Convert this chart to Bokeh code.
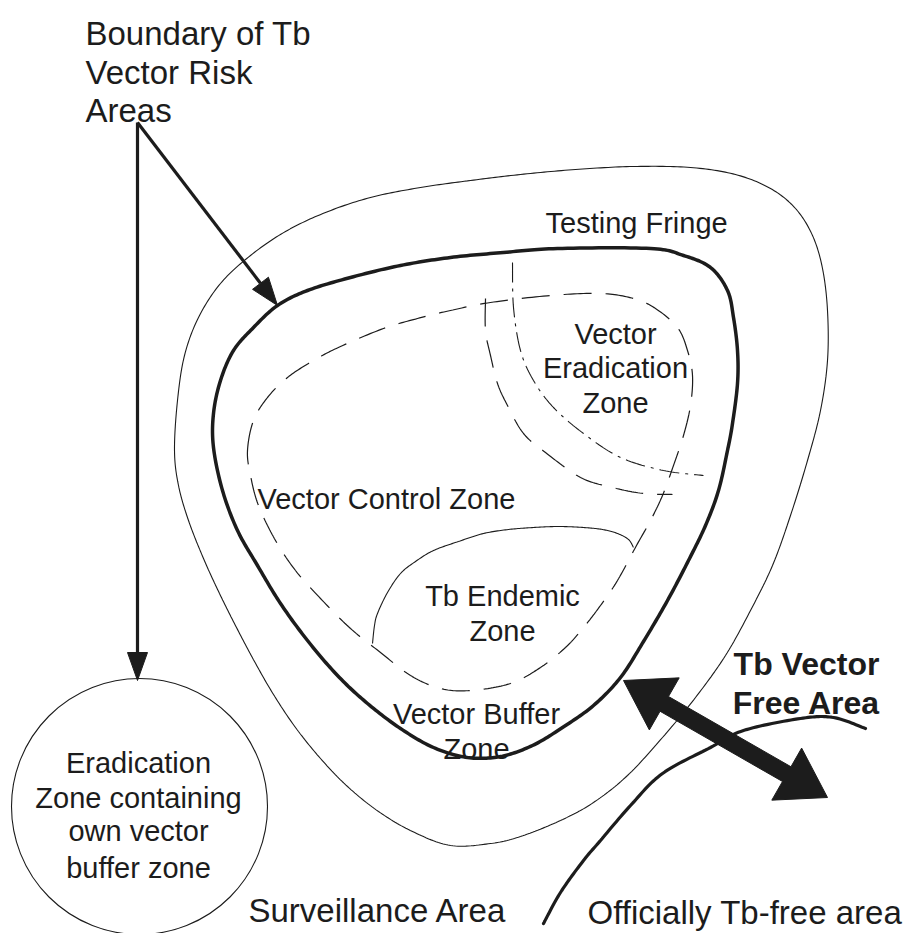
import numpy as np
from bokeh.plotting import figure
from bokeh.models import Range1d
from bokeh.core.properties import value
from bokeh.embed import file_html
from bokeh.resources import INLINE

# ---------------- shapes (image pixel coordinates, y grows downward) ----------------
# outer thin contour: Testing Fringe / Surveillance Area boundary
fringe_x = [174, 177, 184, 198, 220, 250, 285, 325, 370, 420, 470, 520, 575, 633, 690, 735, 770, 795,
            812, 822, 827, 827, 820, 807, 790, 772, 750, 725, 695, 662, 627, 593, 560, 520, 490, 450,
            412, 378, 347, 320, 295, 273, 254, 236, 219, 203, 188, 178]
fringe_y = [450, 400, 355, 317, 283, 255, 231, 212, 197, 187, 180, 174, 169, 166, 167, 174, 188, 208,
            235, 268, 310, 360, 410, 460, 515, 565, 610, 655, 697, 737, 775, 802, 820, 836, 843, 845,
            831, 811, 786, 758, 727, 694, 661, 627, 593, 558, 520, 485]

# thick boundary of Tb vector risk area
risk_x = [213, 220, 233, 253, 277, 307, 350, 400, 450, 503, 557, 650, 683, 710, 727, 733, 737, 737,
          732, 727, 718, 705, 688, 667, 643, 620, 593, 562, 532, 500, 467, 433, 400, 367, 337, 307,
          280, 257, 237, 222, 213]
risk_y = [413, 380, 350, 327, 305, 290, 277, 265, 257, 252, 248, 248, 255, 267, 290, 317, 350, 383,
          423, 450, 490, 525, 560, 600, 641, 677, 705, 727, 745, 756, 757, 747, 728, 703, 675, 640,
          603, 565, 530, 490, 447]

# dashed oval: Vector Control Zone
control_x = [247, 253, 267, 287, 313, 340, 383, 417, 450, 490, 550, 600, 633, 655, 677, 687, 692, 690,
             683, 673, 662, 650, 636, 617, 600, 583, 565, 540, 510, 470, 440, 410, 380, 350, 320, 295,
             275, 258, 250]
control_y = [450, 420, 397, 377, 360, 346, 328, 318, 310, 302, 295, 293, 298, 308, 327, 350, 375, 405,
             435, 465, 495, 520, 545, 580, 605, 627, 647, 667, 683, 690, 688, 675, 652, 628, 598, 570,
             540, 505, 475]

# dashed buffer curve around the Vector Eradication Zone
erad_buffer_x = [485, 485, 490, 497, 507, 523, 545, 580, 612, 643, 672]
erad_buffer_y = [298, 330, 355, 383, 405, 433, 452, 477, 487, 493, 494]

# dash-dot curve: Vector Eradication Zone boundary
erad_x = [512, 513, 520, 533, 553, 583, 620, 663, 703]
erad_y = [262, 307, 350, 380, 407, 433, 457, 470, 475]

# solid arc: Tb Endemic Zone
endemic_x = [372, 374, 377, 387, 400, 415, 433, 458, 483, 508, 533, 558, 583, 602, 617, 628, 633]
endemic_y = [643, 625, 613, 592, 573, 561, 550, 541, 533, 529, 527, 526, 527, 529, 533, 539, 547]

# thick curve: Officially Tb-free area boundary
free_x = [543, 560, 583, 600, 630, 662, 710, 743, 800, 833, 865]
free_y = [923, 892, 860, 840, 805, 773, 747, 730, 718, 717, 728]

# separate eradication zone (circle)
circle_cx, circle_cy, circle_r = 139, 806, 128

# pointer arrows from the "Boundary" label
pointer_start = (137, 122)
pointer_ends_x = [277, 137]
pointer_ends_y = [305, 680]

# double arrow (Tb Vector Free Area)
dbl_tip_a = (623, 680)
dbl_tip_b = (827, 797)

# ---------------- labels ----------------
labels_reg = ["Boundary of Tb", "Vector Risk", "Areas"]
labels_reg_x = [85, 85, 85]
labels_reg_y = [33, 72, 110]

labels_28 = ["Testing Fringe", "Vector Control Zone"]
labels_28_x = [545, 257]
labels_28_y = [222, 498]

labels_c = ["Vector", "Eradication", "Zone", "Tb Endemic", "Zone", "Vector Buffer", "Zone",
            "Eradication", "Zone containing", "own vector", "buffer zone"]
labels_c_x = [615, 615, 615, 502, 502, 476, 476, 138, 138, 138, 138]
labels_c_y = [333, 367, 402, 595, 630, 713, 748, 762, 797, 830, 867]

labels_bold = ["Tb Vector", "Free Area"]
labels_bold_x = [806, 806]
labels_bold_y = [663, 702]

labels_bottom = ["Surveillance Area", "Officially Tb-free area"]
labels_bottom_x = [248, 587]
labels_bottom_y = [910, 912]


def smooth(xs, ys, closed, n=16):
    pts = np.column_stack([xs, ys]).astype(float)
    if closed:
        P = np.vstack([pts[-1], pts, pts[0], pts[1]])
    else:
        P = np.vstack([pts[0], pts, pts[-1]])
    out = []
    t = np.linspace(0, 1, n, endpoint=False)[:, None]
    for i in range(1, len(P) - 2):
        p0, p1, p2, p3 = P[i - 1], P[i], P[i + 1], P[i + 2]
        seg = 0.5 * ((2 * p1) + (-p0 + p2) * t + (2 * p0 - 5 * p1 + 4 * p2 - p3) * t ** 2
                     + (-p0 + 3 * p1 - 3 * p2 + p3) * t ** 3)
        out.append(seg)
    out.append(P[-2][None, :])
    a = np.vstack(out)
    return list(a[:, 0]), list(a[:, 1])


def head(tip, frm, L, W):
    tip = np.array(tip, float)
    frm = np.array(frm, float)
    d = tip - frm
    d /= np.hypot(*d)
    nrm = np.array([-d[1], d[0]])
    base = tip - d * L
    pts = [tip, base + nrm * W, base - nrm * W]
    return [p[0] for p in pts], [p[1] for p in pts], base


p = figure(width=904, height=933, x_range=Range1d(0, 904), y_range=Range1d(933, 0),
           output_backend="svg", toolbar_location=None, min_border=0)
p.axis.visible = False
p.grid.visible = False
p.outline_line_color = None
p.background_fill_color = "white"
p.border_fill_color = "white"

ink = "#1c1c1c"

x, y = smooth(fringe_x, fringe_y, True)
p.line(x, y, line_color=ink, line_width=1.1)

x, y = smooth(control_x, control_y, True)
p.line(x, y, line_color=ink, line_width=1.2, line_dash="28 14")

x, y = smooth(erad_buffer_x, erad_buffer_y, False)
p.line(x, y, line_color=ink, line_width=1.2, line_dash="28 14")

x, y = smooth(erad_x, erad_y, False)
p.line(x, y, line_color=ink, line_width=1.1, line_dash="20 6 3 6")

x, y = smooth(endemic_x, endemic_y, False)
p.line(x, y, line_color=ink, line_width=1.1)

x, y = smooth(risk_x, risk_y, True)
p.line(x, y, line_color=ink, line_width=3.5, line_join="round")

x, y = smooth(free_x, free_y, False)
p.line(x, y, line_color=ink, line_width=3.2, line_cap="round")

p.ellipse(x=[circle_cx], y=[circle_cy], width=2 * circle_r, height=2 * circle_r,
          fill_color=None, line_color=ink, line_width=1.1)

# pointer arrows
for ex, ey in zip(pointer_ends_x, pointer_ends_y):
    hx, hy, base = head((ex, ey), pointer_start, 28, 10)
    p.line([pointer_start[0], base[0]], [pointer_start[1], base[1]], line_color=ink, line_width=3.2)
    p.patch(hx, hy, fill_color=ink, line_color=ink, line_width=1)

# double arrow
A = np.array(dbl_tip_a, float)
B = np.array(dbl_tip_b, float)
u = (B - A) / np.hypot(*(B - A))
nv = np.array([-u[1], u[0]])
L, W, w = 47, 30, 8.5
poly = [A, A + u * L + nv * W, A + u * L + nv * w, B - u * L + nv * w, B - u * L + nv * W, B,
        B - u * L - nv * W, B - u * L - nv * w, A + u * L - nv * w, A + u * L - nv * W]
p.patch([q[0] for q in poly], [q[1] for q in poly], fill_color=ink, line_color=ink, line_width=1)

font = value("Liberation Sans")
p.text(labels_reg_x, labels_reg_y, text=labels_reg, text_font=font, text_font_size=value("33px"),
       text_align="left", text_baseline="alphabetic", text_color=ink)
p.text(labels_28_x, labels_28_y, text=labels_28, text_font=font, text_font_size=value("29px"),
       text_align="left", text_baseline="alphabetic", text_color=ink)
p.text(labels_c_x, labels_c_y, text=labels_c, text_font=font, text_font_size=value("29px"),
       text_align="center", text_baseline="alphabetic", text_color=ink)
p.text(labels_bold_x, labels_bold_y, text=labels_bold, text_font=font, text_font_size=value("32px"),
       text_font_style="bold", text_align="center", text_baseline="alphabetic", text_color=ink)
p.text(labels_bottom_x, labels_bottom_y, text=labels_bottom, text_font=font,
       text_font_size=value("33px"), text_align="left", text_baseline="alphabetic", text_color=ink)

open("out.html", "w").write(file_html(p, INLINE))
